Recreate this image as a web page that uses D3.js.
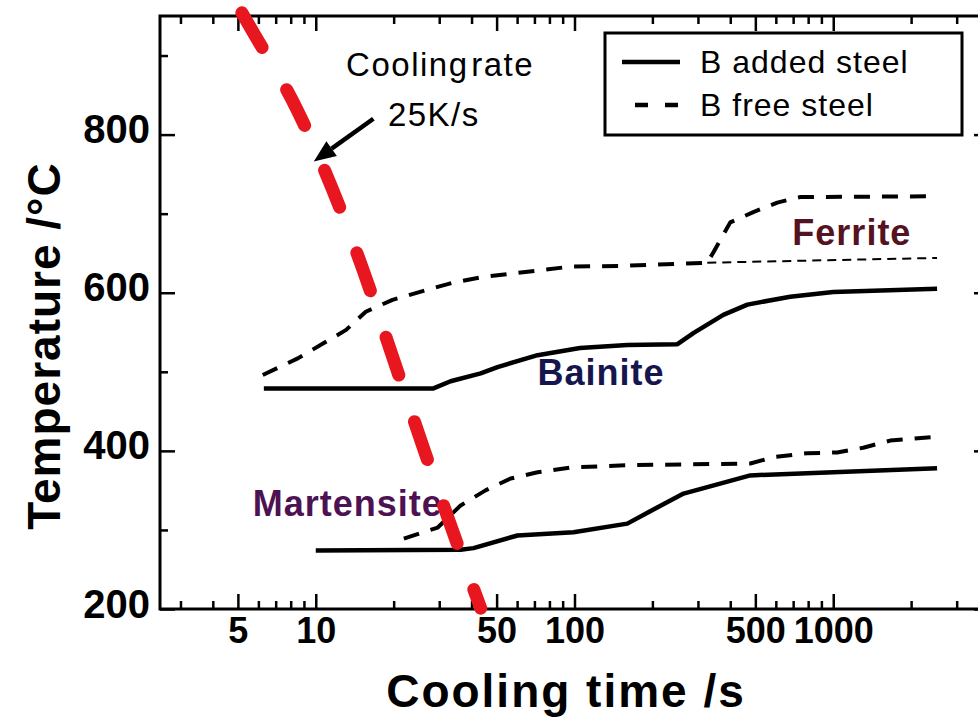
<!DOCTYPE html>
<html>
<head>
<meta charset="utf-8">
<script src="https://cdn.jsdelivr.net/npm/d3@7"></script>
<style>
  html, body { margin: 0; padding: 0; background: #fff; }
  svg { display: block; font-family: "Liberation Sans", Arial, sans-serif; }
</style>
</head>
<body>
<svg id="chart" width="978" height="718"></svg>
<script>
// Continuous-cooling transformation lines: cooling time (s) vs temperature (°C)

// B free steel – ferrite start (dashed)
const freeFerriteTime = [6.24, 8.52, 10.7, 13.1, 15.6, 19.8, 27.1, 34.1, 44.5, 60.2, 75.9, 96.5, 150, 326, 344, 400, 491, 608, 746, 2520];
const freeFerriteTemp = [496, 517, 536, 553, 576, 591, 604, 613, 620, 625, 629, 633, 634, 638, 651, 689, 702, 714, 721, 722];

// B free steel – bainite start below the ferrite region (thin dashed)
const freeBainiteTime = [326, 2520];
const freeBainiteTemp = [638, 644];

// B added steel – upper transformation line (solid)
const addedUpperTime = [6.30, 28.5, 33.2, 43.4, 50.4, 72.0, 105, 160, 250, 288, 376, 466, 682, 1000, 2520];
const addedUpperTemp = [479, 479, 488, 498, 506, 521, 530, 534, 535, 549, 572, 585, 595, 601, 605];

// B free steel – lower transformation line (dashed)
const freeLowerTime = [21.9, 29.6, 36.3, 45.3, 56.6, 72.0, 96.5, 165, 478, 587, 793, 1036, 1306, 1660, 2520];
const freeLowerTemp = [289, 303, 331, 350, 365, 373, 379, 382, 384, 392, 397, 398, 404, 413, 418];

// B added steel – lower transformation line (solid)
const addedLowerTime = [10, 36.3, 40.7, 60.2, 99.1, 160, 197, 264, 478, 1000, 2520];
const addedLowerTemp = [274, 275, 277, 293, 297, 308, 324, 346, 369, 373, 378];

// Cooling curve, 25 K/s
const coolingTime = [5.18, 5.69, 8.45, 11.6, 15.3, 20.1, 25.8, 33.7, 42.4, 43.4];
const coolingTemp = [954, 931, 832, 731, 627, 513, 408, 300, 210, 201];

// Axes
const timeDomain = [2.5, 4000];
const tempDomain = [200, 950];
const timeMajorTicks = [5, 10, 50, 100, 500, 1000];
const timeMinorTicks = [3, 4, 6, 7, 8, 9, 20, 30, 40, 60, 70, 80, 90, 200, 300, 400, 600, 700, 800, 900, 2000, 3000];
const tempMajorTicks = [200, 400, 600, 800];
const tempMinorTicks = [300, 500, 700, 900];

// Phase labels and annotation (anchors in time / temperature)
const phaseNames = ["Ferrite", "Bainite", "Martensite"];
const phaseAnchorTime = [695, 72.0, 5.71];
const phaseAnchorTemp = [661, 483, 318];
const phaseColors = ["#551220", "#16164e", "#4d1252"];

const legendNames = ["B added steel", "B free steel"];
const rateText = ["Cooling rate", "25K/s"];
const rateTextTime = [13.1, 19.0];
const rateTextTemp = [874, 811];
const arrowTailTime = 16.7, arrowTailTemp = 820;
const arrowTipTime = 9.82, arrowTipTemp = 766;

// ---------------------------------------------------------------
const svg = d3.select("#chart");
const plotLeft = 160, plotRight = 989, plotTop = 16, plotBottom = 609;

const x = d3.scaleLog().domain(timeDomain).range([plotLeft, plotRight]);
const y = d3.scaleLinear().domain(tempDomain).range([plotBottom, plotTop]);

const zip = (a, b) => a.map((v, i) => [v, b[i]]);
const series = [
  { pts: zip(freeFerriteTime, freeFerriteTemp), width: 4, dash: "16 12" },
  { pts: zip(freeBainiteTime, freeBainiteTemp), width: 2, dash: "9 6" },
  { pts: zip(addedUpperTime, addedUpperTemp), width: 4.5, dash: null },
  { pts: zip(freeLowerTime, freeLowerTemp), width: 4, dash: "16 12" },
  { pts: zip(addedLowerTime, addedLowerTemp), width: 4.5, dash: null }
];

// Frame
svg.append("rect")
  .attr("x", plotLeft).attr("y", plotTop)
  .attr("width", plotRight - plotLeft).attr("height", plotBottom - plotTop)
  .attr("fill", "none").attr("stroke", "#000").attr("stroke-width", 3);

function styleAxis(g) {
  g.select(".domain").remove();
  g.selectAll(".tick line").attr("stroke", "#000").attr("stroke-width", 2.5);
}

// Bottom axis: major with labels, minor without
const xMajor = svg.append("g").attr("transform", `translate(0,${plotBottom})`)
  .call(d3.axisBottom(x).tickValues(timeMajorTicks).tickSize(-15).tickSizeOuter(0).tickFormat(d3.format("d")))
  .call(styleAxis);
xMajor.selectAll("text")
  .attr("y", 34).attr("dy", 0)
  .attr("fill", "#000")
  .style("font-size", "36px").style("font-weight", "bold")
  .style("font-family", "'Liberation Sans', Arial, sans-serif");
svg.append("g").attr("transform", `translate(0,${plotBottom})`)
  .call(d3.axisBottom(x).tickValues(timeMinorTicks).tickSize(-8).tickSizeOuter(0).tickFormat(""))
  .call(styleAxis);

// Top axis
svg.append("g").attr("transform", `translate(0,${plotTop})`)
  .call(d3.axisTop(x).tickValues(timeMajorTicks).tickSize(-15).tickSizeOuter(0).tickFormat(""))
  .call(styleAxis);
svg.append("g").attr("transform", `translate(0,${plotTop})`)
  .call(d3.axisTop(x).tickValues(timeMinorTicks).tickSize(-8).tickSizeOuter(0).tickFormat(""))
  .call(styleAxis);

// Left axis
const yMajor = svg.append("g").attr("transform", `translate(${plotLeft},0)`)
  .call(d3.axisLeft(y).tickValues(tempMajorTicks).tickSize(-15).tickSizeOuter(0).tickPadding(10).tickFormat(d3.format("d")))
  .call(styleAxis);
yMajor.selectAll("text")
  .attr("dy", "0.2em")
  .attr("fill", "#000")
  .style("font-size", "40px").style("font-weight", "bold")
  .style("font-family", "'Liberation Sans', Arial, sans-serif");
svg.append("g").attr("transform", `translate(${plotLeft},0)`)
  .call(d3.axisLeft(y).tickValues(tempMinorTicks).tickSize(-8).tickSizeOuter(0).tickFormat(""))
  .call(styleAxis);

// Right axis
svg.append("g").attr("transform", `translate(${plotRight},0)`)
  .call(d3.axisRight(y).tickValues(tempMajorTicks).tickSize(-15).tickSizeOuter(0).tickFormat(""))
  .call(styleAxis);
svg.append("g").attr("transform", `translate(${plotRight},0)`)
  .call(d3.axisRight(y).tickValues(tempMinorTicks).tickSize(-8).tickSizeOuter(0).tickFormat(""))
  .call(styleAxis);

// Axis titles
svg.append("text")
  .attr("x", 566).attr("y", 707)
  .attr("text-anchor", "middle")
  .style("font-size", "46px").style("font-weight", "bold").style("letter-spacing", "2px")
  .text("Cooling time /s");
svg.append("text")
  .attr("transform", "translate(60,346) rotate(-90)")
  .attr("text-anchor", "middle")
  .style("font-size", "46px").style("font-weight", "bold").style("letter-spacing", "1px")
  .text("Temperature /°C");

// Transformation lines
const line = d3.line().x(d => x(d[0])).y(d => y(d[1]));
svg.append("g").selectAll("path")
  .data(series)
  .join("path")
  .attr("d", d => line(d.pts))
  .attr("fill", "none")
  .attr("stroke", "#000")
  .attr("stroke-width", d => d.width)
  .attr("stroke-dasharray", d => d.dash)
  .attr("stroke-linejoin", "round");

// Phase labels
svg.append("g").selectAll("text")
  .data(phaseNames)
  .join("text")
  .attr("x", (d, i) => x(phaseAnchorTime[i]))
  .attr("y", (d, i) => y(phaseAnchorTemp[i]))
  .attr("fill", (d, i) => phaseColors[i])
  .style("font-size", "36px").style("font-weight", "bold").style("letter-spacing", "1px")
  .text(d => d);

// Cooling curve
const coolLine = d3.line().x(d => x(d[0])).y(d => y(d[1])).curve(d3.curveMonotoneX);
svg.append("path")
  .attr("d", coolLine(zip(coolingTime, coolingTemp)))
  .attr("fill", "none")
  .attr("stroke", "#e8161e")
  .attr("stroke-width", 13)
  .attr("stroke-linecap", "round")
  .attr("stroke-dasharray", "40 49");

// Cooling-rate annotation
svg.append("g").selectAll("text")
  .data(rateText)
  .join("text")
  .attr("x", (d, i) => x(rateTextTime[i]))
  .attr("y", (d, i) => y(rateTextTemp[i]))
  .attr("fill", "#000")
  .style("font-size", "33px").style("letter-spacing", "1.5px").style("word-spacing", "-8px")
  .text(d => d);

const tx = x(arrowTailTime), ty = y(arrowTailTemp);
const hx = x(arrowTipTime), hy = y(arrowTipTemp);
const ang = Math.atan2(hy - ty, hx - tx);
const headLen = 22, headHalf = 9;
const bx = hx - headLen * Math.cos(ang), by = hy - headLen * Math.sin(ang);
svg.append("line")
  .attr("x1", tx).attr("y1", ty).attr("x2", bx).attr("y2", by)
  .attr("stroke", "#000").attr("stroke-width", 4.5);
svg.append("path")
  .attr("d", `M${hx},${hy}L${bx + headHalf * Math.sin(ang)},${by - headHalf * Math.cos(ang)}L${bx - headHalf * Math.sin(ang)},${by + headHalf * Math.cos(ang)}Z`)
  .attr("fill", "#000");

// Legend
const legend = svg.append("g").attr("transform", "translate(605,33)");
legend.append("rect")
  .attr("width", 357).attr("height", 102)
  .attr("fill", "#fff").attr("stroke", "#000").attr("stroke-width", 3);
const legendDash = [null, "13 17"];
const legendX1 = [17, 30];
legendNames.forEach((name, i) => {
  const ly = 29 + i * 43;
  legend.append("line")
    .attr("x1", legendX1[i]).attr("x2", 75).attr("y1", ly).attr("y2", ly)
    .attr("stroke", "#000").attr("stroke-width", 4.5)
    .attr("stroke-dasharray", legendDash[i]);
  legend.append("text")
    .attr("x", 95).attr("y", ly + 11)
    .attr("fill", "#000")
    .style("font-size", "32px").style("letter-spacing", "1px")
    .text(name);
});
</script>
</body>
</html>
